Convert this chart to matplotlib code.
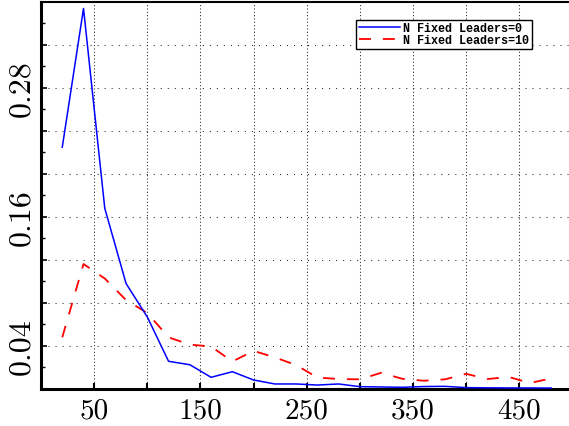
import matplotlib
matplotlib.use('Agg')
import matplotlib.pyplot as plt

#---------------------------------------------------------------------#
# Distribution of the measured quantity for two leader settings       #
#---------------------------------------------------------------------#
binCentres = [20, 40, 60, 80, 100, 120, 140, 160, 180, 200, 220, 240,
              260, 280, 300, 320, 340, 360, 380, 400, 420, 440, 460, 480]
fracNoLeaders = [0.2246, 0.3537, 0.1678, 0.0979, 0.0667, 0.0255, 0.0223,
                 0.0106, 0.0158, 0.0081, 0.0044, 0.0044, 0.0034, 0.0044,
                 0.0019, 0.0016, 0.0013, 0.0020, 0.0022, 0.0010, 0.0008,
                 0.0007, 0.0007, 0.0006]
fracTenLeaders = [0.0478, 0.1160, 0.1025, 0.0825, 0.0704, 0.0478, 0.0410,
                  0.0393, 0.0253, 0.0352, 0.0291, 0.0220, 0.0104, 0.0090,
                  0.0087, 0.0148, 0.0092, 0.0074, 0.0087, 0.0138, 0.0090,
                  0.0109, 0.0053, 0.0096]
seriesLabels = ['N Fixed Leaders=0', 'N Fixed Leaders=10']

xTicks      = [50, 100, 150, 200, 250, 300, 350, 400, 450]
xTickLabels = ['50', '', '150', '', '250', '', '350', '', '450']
yTicks      = [0.04, 0.08, 0.12, 0.16, 0.20, 0.24, 0.28, 0.32]
yTickLabels = ['0.04', '', '', '0.16', '', '', '0.28', '']
yMinor      = [0.02, 0.06, 0.10, 0.14, 0.18, 0.22, 0.26, 0.30, 0.34]

plt.rcParams['lines.scale_dashes'] = False

W, H = 569, 427
fig = plt.figure(figsize=(W / 100, H / 100), dpi=100)
# axes box in pixels: left spine at 41, x=0..500 -> 41..572.5, y=0..0.36 -> 389.7..2.7
ax = fig.add_axes([41 / W, (H - 389.7) / H, (572.5 - 41) / W, 387.0 / H])

ax.plot(binCentres, fracTenLeaders, color='#ff0000', linewidth=1.3,
        dashes=(8.6, 8.6), label=seriesLabels[1], zorder=3)
ax.plot(binCentres, fracNoLeaders, color='#0000ff', linewidth=1.1,
        label=seriesLabels[0], zorder=4)

ax.set_xlim(0, 500)
ax.set_ylim(0, 0.36)

ax.set_xticks(xTicks)
ax.set_xticklabels(xTickLabels)
ax.set_yticks(yTicks)
ax.set_yticklabels(yTickLabels, rotation=90, va='center')
ax.set_yticks(yMinor, minor=True)

for lab in ax.get_xticklabels():
  lab.set_family('cmr10')
  lab.set_fontsize(21)
for lab in ax.get_yticklabels():
  lab.set_family('cmr10')
  lab.set_fontsize(23)

ax.tick_params(axis='both', which='both', direction='in', top=False, right=False)
ax.tick_params(axis='x', which='major', length=4, width=1.5, pad=6)
ax.tick_params(axis='y', which='major', length=4, width=1.2, pad=4)
ax.tick_params(axis='y', which='minor', length=3, width=1.0)

#---------------------------------------------------------------------#
# Dotted grid, spaced differently along each direction                #
#---------------------------------------------------------------------#
ax.xaxis.grid(True, color='0.15', linewidth=0.75, linestyle=(0, (0.75, 1.65)))
ax.yaxis.grid(True, color='0.15', linewidth=0.75, linestyle=(0, (0.75, 4.3)))
ax.set_axisbelow(True)

ax.spines['left'].set_linewidth(2.2)
ax.spines['bottom'].set_linewidth(2.2)
ax.spines['top'].set_linewidth(1.5)
ax.spines['right'].set_visible(False)

hand, labs = ax.get_legend_handles_labels()
leg = ax.legend(hand[::-1], labs[::-1], loc='upper right',
                bbox_to_anchor=(532 / W, 1 - 20.5 / H), bbox_transform=fig.transFigure,
                borderaxespad=0, fancybox=False, framealpha=1, edgecolor='black',
                handlelength=3.5, handletextpad=0.25, borderpad=0.25,
                labelspacing=0.0,
                prop={'family': 'Liberation Mono', 'weight': 'bold', 'size': 8.5})
leg.get_frame().set_linewidth(1.0)

plt.savefig('out.png', dpi=100)
